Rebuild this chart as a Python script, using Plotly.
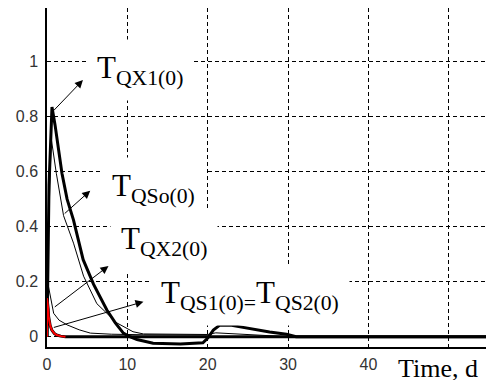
import plotly.graph_objects as go

# ---- data ----
qx1_t = [0, 0.25, 0.62, 1.0, 1.86, 2.5, 3.3, 3.8, 4.5, 5.8, 7.45, 8.5, 9.5, 10.3, 11.2, 13.2, 16.6, 19.4, 20.0, 20.7, 21.5, 22.8, 25.6, 27.7, 29.8, 31, 55]
qx1_y = [0, 0.55, 0.835, 0.77, 0.594, 0.5, 0.424, 0.36, 0.28, 0.19, 0.097, 0.05, 0.013, 0.0, -0.01, -0.024, -0.027, -0.022, -0.005, 0.024, 0.042, 0.042, 0.027, 0.017, 0.009, 0.0, 0.0]

qso_t = [0, 0.2, 0.53, 1.16, 2.06, 3.3, 4.55, 6.2, 8.7, 10.7, 12, 20, 21, 24, 28, 30, 55]
qso_y = [0, 0.4, 0.72, 0.594, 0.44, 0.34, 0.22, 0.12, 0.05, 0.018, 0.01, 0.008, 0.014, 0.01, 0.003, 0.0, 0.0]

qx2_t = [0, 0, 0.2, 0.5, 0.83, 1.5, 2.5, 4, 5.4, 8, 12, 20, 20.5, 55]
qx2_y = [0, 0.22, 0.18, 0.13, 0.085, 0.06, 0.043, 0.025, 0.013, 0.009, 0.007, 0.006, 0.0, 0.0]

qs_t = [0, 0, 0.15, 0.2, 0.4, 0.6, 0.9, 1.2, 1.7, 2.3, 55]
qs_y = [0, 0.14, 0.1, 0.073, 0.04, 0.024, 0.012, 0.006, 0.002, 0.0, 0.0]

x_ticks = [0, 10, 20, 30, 40, 50]
x_ticktext = ["0", "10", "20", "30", "40", ""]
y_ticks = [0, 0.2, 0.4, 0.6, 0.8, 1]
y_ticktext = ["0", "0.2", "0.4", "0.6", "0.8", "1"]

labels = ["T<sub>QX1(0)</sub>", "T<sub>QSo(0)</sub>", "T<sub>QX2(0)</sub>",
          "T<sub>QS1(0)=</sub>T<sub>QS2(0)</sub>"]
label_x = [11.53, 13.2, 14.57, 25.3]
label_y = [0.97, 0.54, 0.348, 0.152]

# arrows: tail on curve -> head near label
arrow_tail_x = [0.66, 2.02, 0.78, 0.66]
arrow_tail_y = [0.817, 0.443, 0.104, 0.032]
arrow_head_x = [4.47, 5.38, 7.65, 12.0]
arrow_head_y = [0.933, 0.531, 0.257, 0.127]

fig = go.Figure()
fig.add_trace(go.Scatter(x=qs_t, y=qs_y, mode="lines", line=dict(color="black", width=3), showlegend=False))
fig.add_trace(go.Scatter(x=qx2_t, y=qx2_y, mode="lines", line=dict(color="black", width=1), showlegend=False))
fig.add_trace(go.Scatter(x=qso_t, y=qso_y, mode="lines", line=dict(color="black", width=1), showlegend=False))
fig.add_trace(go.Scatter(x=qx1_t, y=qx1_y, mode="lines", line=dict(color="black", width=3), showlegend=False))
fig.add_trace(go.Scatter(x=qs_t[:-1], y=qs_y[:-1], mode="lines", line=dict(color="red", width=2), showlegend=False))

serif = "Liberation Serif, Times New Roman, serif"
for txt, lx, ly in zip(labels, label_x, label_y):
    fig.add_annotation(x=lx, y=ly, xref="x", yref="y", text=txt, showarrow=False,
                       font=dict(family=serif, size=31, color="black"),
                       bgcolor="white", borderpad=10, xanchor="center", yanchor="middle")

for tx, ty, hx, hy in zip(arrow_tail_x, arrow_tail_y, arrow_head_x, arrow_head_y):
    fig.add_annotation(x=hx, y=hy, ax=tx, ay=ty, xref="x", yref="y", axref="x", ayref="y",
                       text="", showarrow=True, arrowhead=2, arrowsize=1.6, arrowwidth=1,
                       arrowcolor="black")

fig.add_annotation(x=48.6, y=-0.062, xref="x", yref="paper", text="Time, d", showarrow=False,
                   font=dict(family=serif, size=26, color="black"),
                   xanchor="center", yanchor="middle")

# page body adds an 8px offset, so the figure is sized/margined to compensate
fig.update_layout(
    width=486, height=372,
    margin=dict(l=39, r=5, t=0, b=33, autoexpand=False),
    paper_bgcolor="white", plot_bgcolor="white",
    font=dict(family="Liberation Sans, Arial, sans-serif", size=16, color="#333"),
    xaxis=dict(range=[0, 55], tickvals=x_ticks, ticktext=x_ticktext, automargin=False,
               showgrid=True, gridcolor="black", griddash="4px,3px", gridwidth=1,
               zeroline=False, showline=True, linecolor="black", linewidth=1.5,
               ticks="", ticklabelstandoff=2),
    yaxis=dict(range=[-0.0375, 1.195], tickvals=y_ticks, ticktext=y_ticktext, automargin=False,
               showgrid=True, gridcolor="black", griddash="4px,3px", gridwidth=1,
               zeroline=False, showline=True, linecolor="black", linewidth=1.5,
               ticks="", ticklabelstandoff=4),
)
fig.add_shape(type="line", xref="paper", yref="paper", x0=1, x1=1, y0=0, y1=1,
              line=dict(color="#333", width=2))

fig.write_html("out.html")
